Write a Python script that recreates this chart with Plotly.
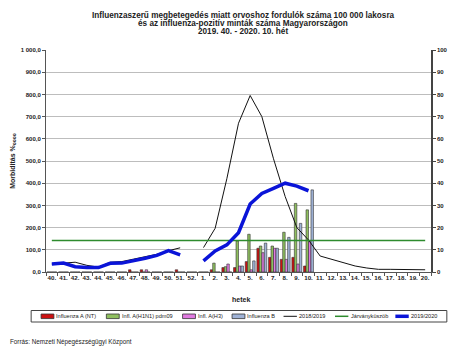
import plotly.graph_objects as go

weeks = ["40.", "41.", "42.", "43.", "44.", "45.", "46.", "47.", "48.", "49.", "50.", "51.", "52.",
         "1.", "2.", "3.", "4.", "5.", "6.", "7.", "8.", "9.", "10.", "11.", "12.", "13.", "14.",
         "15.", "16.", "17.", "18.", "19.", "20."]

# Positive samples (right axis)
infl_a_nt = [0, 0, 0, 0, 0, 0, 0, 1, 1, 0, 0, 1, 0,
             0, 1, 2, 2, 4.7, 10.7, 6.6, 5.7, 6.6, 2.7] + [None] * 10
infl_h1n1 = [0, 0, 0, 0, 0, 0, 0, 0, 0, 0, 0, 0, 0,
             0, 4, 2.4, 14, 17, 11.7, 11.7, 17.9, 30.9, 28] + [None] * 10
infl_h3 = [0, 0, 0, 0, 0, 0, 0, 0, 1, 0, 0, 0, 0,
           0, 0, 3.6, 2.7, 1, 8.7, 10.7, 5.7, 3.6, 14] + [None] * 10
infl_b = [0, 0, 0, 0, 0, 0, 0, 0, 0, 0, 0, 0, 0,
          0, 0, 0, 2.7, 5, 13, 10.7, 15.6, 21.9, 37] + [None] * 10

# Morbidity (left axis)
season_2018_19 = [36, 40, 44, 30, 22, 44, 47, 58, 68, 80, 96, 109, None,
                  110, 197, 420, 670, 795, 700, 510, 340, 200, 144, 72, 57, 39,
                  27, 18, 12, 12, 12, 12, 10]
threshold = [142] * 33
season_2019_20 = [36, 40, 24, 20, 20, 39, 40, 50, 62, 75, 96, 77, None,
                  50, 95, 122, 177, 306, 354, 377, 400, 387, 366] + [None] * 10

title_lines = ["Influenzaszerű megbetegedés miatt orvoshoz fordulók száma 100 000 lakosra",
               "és az influenza-pozitív minták száma Magyarországon",
               "2019. 40. - 2020. 10. hét"]

font = "Liberation Sans, Arial, sans-serif"
TXT = "#222222"

bar_specs = [
    ("Influenza A (NT)", infl_a_nt, "#cc1111"),
    ("Infl. A(H1N1) pdm09", infl_h1n1, "#8fbf5f"),
    ("Infl. A(H3)", infl_h3, "#e07ae0"),
    ("Influenza B", infl_b, "#9fb2d6"),
]
line_specs = [
    ("2018/2019", season_2018_19, "#111111", 1),
    ("Járványküszöb", threshold, "#2e8b2e", 1.5),
    ("2019/2020", season_2019_20, "#0a14d8", 3.5),
]

fig = go.Figure()
for name, vals, col in bar_specs:
    fig.add_trace(go.Bar(x=weeks, y=vals, name=name,
                         marker=dict(color=col, line=dict(color="#333333", width=0.6)), yaxis="y"))
for name, vals, col, w in line_specs:
    fig.add_trace(go.Scatter(x=weeks, y=vals, name=name, mode="lines",
                             line=dict(color=col, width=w), yaxis="y2", connectgaps=False))

# plot area in pixels
L, R, T, B = 43, 432, 50, 272
W, H = R - L, B - T
def px(x): return (x - L) / W
def py(y): return (B - y) / H

tickf = dict(size=6, color=TXT, weight="bold")

fig.update_layout(
    width=460, height=360,
    margin=dict(l=L, r=460 - R, t=T, b=360 - B),
    paper_bgcolor="white", plot_bgcolor="white",
    separators=", ",
    font=dict(family=font, size=6, color=TXT),
    barmode="group", bargap=0.15, bargroupgap=0,
    showlegend=False,
    xaxis=dict(type="category", categoryorder="array", categoryarray=weeks,
               showline=True, linecolor="#555555", linewidth=1,
               ticks="outside", tickson="boundaries", ticklen=3, tickcolor="#555555",
               tickangle=0, tickfont=dict(size=6.2, color=TXT, weight="bold"), showgrid=False),
    yaxis=dict(range=[0, 100], dtick=10, side="right", showline=True, linecolor="#444444", linewidth=1.5,
               ticks="outside", ticklen=3, tickcolor="#444444", showgrid=False, zeroline=False,
               tickfont=tickf),
    yaxis2=dict(range=[0, 1000], dtick=100, side="left", overlaying="y",
                showline=True, linecolor="#555555", linewidth=1,
                ticks="outside", ticklen=3, tickcolor="#555555",
                showgrid=True, gridcolor="#bdbdbd", gridwidth=1, zeroline=False,
                tickformat=",.1f",
                tickfont=tickf,
                title=dict(text="<b>Morbiditás %<sub>oooo</sub></b>", font=dict(size=7), standoff=4)),
)

# title (three lines)
for i, line in enumerate(title_lines):
    fig.add_annotation(text="<b>" + line + "</b>", xref="paper", yref="paper",
                       x=px(242.5), y=py(15 + 8.3 * i), xanchor="center", yanchor="middle",
                       showarrow=False, font=dict(size=8.2, color=TXT))

# x axis title
fig.add_annotation(text="<b>hetek</b>", xref="paper", yref="paper", x=px(240), y=py(299),
                   xanchor="center", yanchor="middle", showarrow=False, font=dict(size=7, color=TXT))

# manual legend
shapes = [dict(type="rect", xref="paper", yref="paper", x0=px(28), x1=px(448), y0=py(322), y1=py(310.5),
               line=dict(color="#444444", width=1), fillcolor="white", layer="above")]
ly = 316.3
swatch_x = [38, 104, 181, 231]
for (name, _, col), sx in zip(bar_specs, swatch_x):
    shapes.append(dict(type="rect", xref="paper", yref="paper", x0=px(sx), x1=px(sx + 13),
                       y0=py(ly + 2.3), y1=py(ly - 2.3), fillcolor=col,
                       line=dict(color="#333333", width=0.8), layer="above"))
    fig.add_annotation(text=name, xref="paper", yref="paper", x=px(sx + 13.5), y=py(ly),
                       xanchor="left", yanchor="middle", showarrow=False, font=dict(size=5.6, color=TXT))
line_x = [283, 335, 396]
for (name, _, col, w), sx in zip(line_specs, line_x):
    shapes.append(dict(type="line", xref="paper", yref="paper", x0=px(sx), x1=px(sx + 13.5),
                       y0=py(ly), y1=py(ly), line=dict(color=col, width=w), layer="above"))
    fig.add_annotation(text=name, xref="paper", yref="paper", x=px(sx + 14), y=py(ly),
                       xanchor="left", yanchor="middle", showarrow=False, font=dict(size=5.6, color=TXT))
fig.update_layout(shapes=shapes)

fig.add_annotation(text="Forrás: Nemzeti Népegészségügyi Központ", xref="paper", yref="paper",
                   x=px(5), xanchor="left", y=py(342), yanchor="middle", showarrow=False,
                   font=dict(size=6.3, color=TXT))

fig.write_html("out.html")
